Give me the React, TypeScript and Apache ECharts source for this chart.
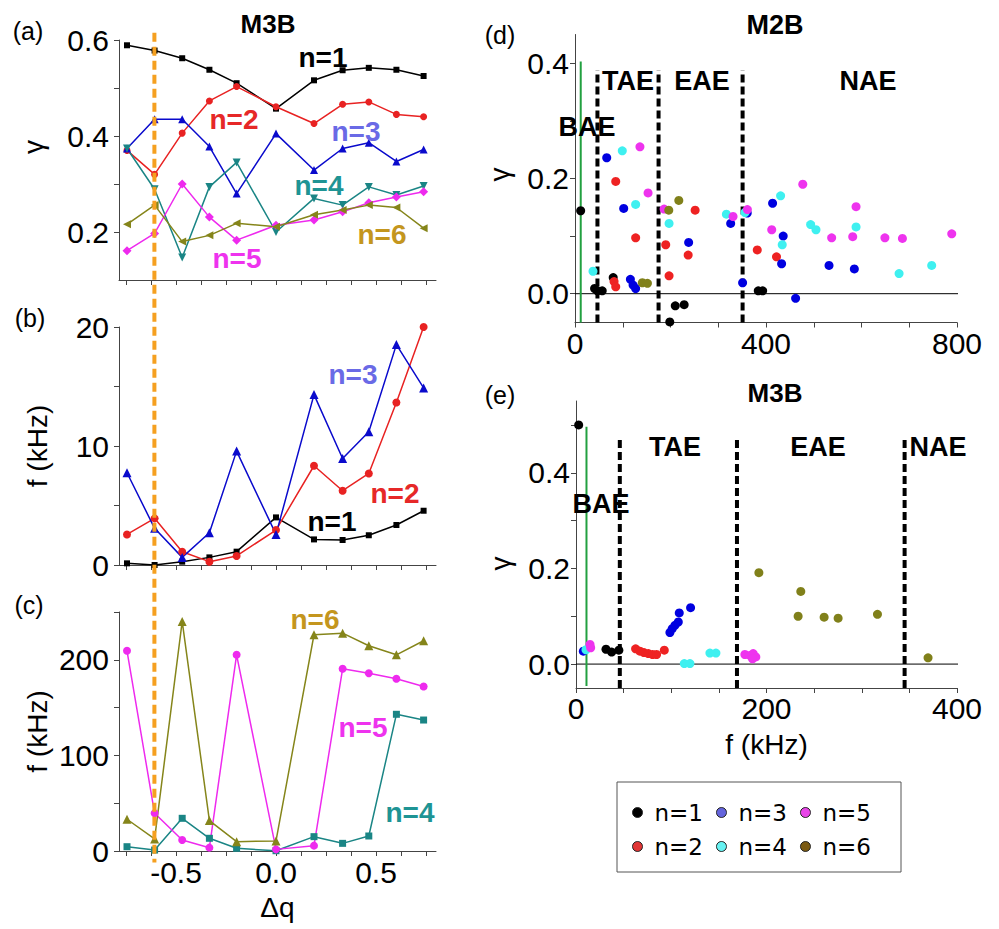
import React, { useEffect, useRef } from "react";
import * as echarts from "echarts";

// ---------- data: panels (a)-(c), scan of Δq ----------
const DQ = [-0.745, -0.607, -0.469, -0.333, -0.197, 0, 0.19, 0.333, 0.464, 0.602, 0.738];
const ORANGE_DQ = -0.608;
const Q_TICKS = [-0.75, -0.625, -0.5, -0.375, -0.25, -0.125, 0, 0.125, 0.25, 0.375, 0.5, 0.625, 0.75];
const Q_LABELS = [-0.5, 0, 0.5];

// (a) growth rate γ
const GA_N1 = [0.589, 0.578, 0.562, 0.538, 0.51, 0.457, 0.516, 0.537, 0.542, 0.538, 0.525];
const GA_N2 = [0.37, 0.32, 0.406, 0.473, 0.503, 0.461, 0.426, 0.466, 0.471, 0.445, 0.44];
const GA_N3 = [0.374, 0.435, 0.435, 0.378, 0.28, 0.405, 0.329, 0.374, 0.386, 0.347, 0.372];
const GA_N4 = [0.374, 0.289, 0.147, 0.294, 0.345, 0.2, 0.27, 0.256, 0.294, 0.277, 0.296];
const GA_N5 = [0.161, 0.197, 0.3, 0.231, 0.183, 0.214, 0.225, 0.242, 0.261, 0.273, 0.284];
const GA_N6 = [0.216, 0.256, 0.18, 0.193, 0.218, 0.211, 0.236, 0.246, 0.256, 0.251, 0.208];

// (b) frequency, kHz
const FB_N1 = [0.14, 0, 0.28, 0.64, 1.12, 4.0, 2.15, 2.1, 2.5, 3.36, 4.56];
const FB_N2 = [2.57, 3.92, 1.12, 0.28, 0.76, 2.94, 8.34, 6.24, 7.69, 13.65, 20.0];
const FB_N3 = [7.75, 3.08, 0.64, 2.71, 9.57, 2.57, 14.32, 8.95, 11.19, 18.52, 14.88];

// (c) frequency, kHz
const FC_N4 = [4.5, 1, 34.2, 13.3, 2.8, 0.3, 15, 8, 15.7, 143, 137];
const FC_N5 = [209.4, 39.4, 11.5, 3.5, 205.2, 1.7, 5.6, 190.6, 186, 180.1, 172];
const FC_N6 = [33.2, 12.6, 240.1, 31.8, 9.8, 10.5, 226.2, 227.9, 214.7, 205.2, 219.9];

// ---------- data: panel (d) M2B, [f (kHz), γ] ----------
const D_N1 = [[11.9, 0.144], [41, 0.009], [47, 0.005], [57, 0.005], [80, 0.028], [198.5, -0.049], [210, -0.021], [228.6, -0.019], [383.8, 0.005], [393, 0.005]];
const D_N2 = [[85.3, 0.195], [81.8, 0.021], [85.3, 0.012], [127, 0.097], [190, 0.085], [197, 0.031], [251.6, 0.145], [237, 0.067], [381.7, 0.076], [422, 0.064]];
const D_N3 = [[66.4, 0.236], [102, 0.148], [116, 0.025], [121.6, 0.015], [127, 0.009], [238, 0.089], [326, 0.122], [351, 0.019], [360.7, 0.14], [413.8, 0.157], [436, 0.1], [432.7, 0.052], [462, -0.008], [532, 0.049], [585, 0.043]];
const D_N4 = [[37.7, 0.039], [99, 0.248], [127, 0.155], [197, 0.122], [317, 0.138], [356, 0.141], [430.6, 0.17], [434, 0.085], [493.5, 0.12], [504.7, 0.111], [588.6, 0.116], [678.7, 0.035], [747, 0.049]];
const D_N5 = [[136, 0.255], [153, 0.175], [186.6, 0.147], [331, 0.134], [361, 0.146], [412, 0.111], [477, 0.19], [537.5, 0.097], [581.6, 0.099], [588.6, 0.151], [649, 0.097], [685.7, 0.096], [789, 0.104]];
const D_N6 = [[217.4, 0.162], [196.4, 0.145], [141, 0.019], [151.7, 0.018]];
const D_BAE = 12;
const D_BOUNDS = [47, 175, 351];

// ---------- data: panel (e) M3B, [f (kHz), γ] ----------
const E_N1 = [[2.8, 0.5], [31.5, 0.031], [37.4, 0.025], [45, 0.029]];
const E_N2 = [[62.6, 0.032], [67.1, 0.027], [71.3, 0.024], [75.9, 0.022], [80.4, 0.02], [84.6, 0.02], [92.7, 0.029]];
const E_N3 = [[7.7, 0.027], [98.6, 0.066], [101, 0.074], [103.9, 0.081], [107.4, 0.088], [108.4, 0.107], [120.3, 0.118]];
const E_N4 = [[10.5, 0.03], [113.7, 0.001], [119.6, 0.001], [140.6, 0.023], [146.9, 0.023]];
const E_N5 = [[14.7, 0.041], [15.4, 0.034], [177.3, 0.02], [182.5, 0.018], [186, 0.022], [188.8, 0.015], [185.3, 0.011]];
const E_N6 = [[192, 0.191], [236, 0.152], [233.2, 0.1], [260.5, 0.098], [275.2, 0.096], [316.5, 0.104], [369.6, 0.013]];
const E_BAE = 11;
const E_BOUNDS = [46, 169, 345];

const FONT = "Liberation Sans";
const LEG_FONT = "DejaVu Sans";
const AX = "#444";

const LINE_COL: Record<string, string> = {
  "n=1": "#000000",
  "n=2": "#e82222",
  "n=3": "#0a0acc",
  "n=4": "#1a8585",
  "n=5": "#ee2aee",
  "n=6": "#85851a",
};
const SCAT_COL: Record<string, string> = {
  "n=1": "#000000",
  "n=2": "#ee2222",
  "n=3": "#0000e0",
  "n=4": "#3ff0f0",
  "n=5": "#ee33ee",
  "n=6": "#80801a",
};
const LEG_COL: Record<string, string> = {
  "n=1": "#000000",
  "n=2": "#e03535",
  "n=3": "#6464dc",
  "n=4": "#66f2f2",
  "n=5": "#e844e8",
  "n=6": "#7a5a12",
};
const LABEL_COL: Record<string, string> = {
  "n=1": "#000000",
  "n=2": "#e62828",
  "n=3": "#6a6ae6",
  "n=4": "#1e9494",
  "n=5": "#ee33ee",
  "n=6": "#c4961e",
};

const zip = (xs: number[], ys: number[]) => xs.map((x, i) => [x, ys[i]]);
const fmt1 = (v: number) => v.toFixed(1);

function qAxis(gridIndex: number, withLabels: boolean) {
  return {
    gridIndex,
    type: "value",
    min: -0.785,
    max: 0.8,
    axisLine: { show: true, onZero: false, lineStyle: { color: AX, width: 1 } },
    axisTick: { show: true, customValues: Q_TICKS, length: 5, lineStyle: { color: AX } },
    axisLabel: {
      show: withLabels,
      customValues: Q_LABELS,
      formatter: fmt1,
      fontSize: 30,
      fontFamily: FONT,
      color: "#000",
      margin: 6,
    },
    splitLine: { show: false },
    name: withLabels ? "Δq" : "",
    nameLocation: "middle",
    nameGap: 42,
    nameTextStyle: { fontSize: 28, fontFamily: FONT, color: "#000" },
  };
}

function valAxis(gridIndex: number, o: any) {
  return {
    gridIndex,
    type: "value",
    min: o.min,
    max: o.max,
    axisLine: { show: true, onZero: false, lineStyle: { color: AX, width: 1 } },
    axisTick: { show: true, customValues: o.ticks, length: 5, lineStyle: { color: AX } },
    axisLabel: {
      show: true,
      customValues: o.labels,
      formatter: o.fmt || ((v: number) => String(v)),
      fontSize: 30,
      fontFamily: FONT,
      color: "#000",
      margin: o.margin ?? 8,
    },
    splitLine: { show: false },
    name: o.name || "",
    nameLocation: "middle",
    nameGap: o.nameGap ?? 50,
    nameTextStyle: { fontSize: 28, fontFamily: FONT, color: "#000", padding: o.namePad || 0 },
  };
}

function lineSeries(name: string, grid: number, ys: number[], symbol: string, size: number, rotate = 0) {
  const c = LINE_COL[name];
  return {
    type: "line",
    name: "(" + "abc"[grid] + ") " + name,
    xAxisIndex: grid,
    yAxisIndex: grid,
    data: zip(DQ, ys),
    symbol,
    symbolSize: size,
    symbolRotate: rotate,
    showSymbol: true,
    lineStyle: { color: c, width: 1.5 },
    itemStyle: { color: c },
    z: 3,
  };
}

function scatterSeries(name: string, grid: number, data: number[][]) {
  return {
    type: "scatter",
    name,
    xAxisIndex: grid,
    yAxisIndex: grid,
    data,
    symbol: "circle",
    symbolSize: 9,
    itemStyle: { color: SCAT_COL[name], opacity: 1 },
    z: 4,
  };
}

function vLine(grid: number, x: number, y0: number, y1: number, color: string, width: number, dash: any) {
  return {
    type: "line",
    xAxisIndex: grid,
    yAxisIndex: grid,
    data: [[x, y0], [x, y1]],
    symbol: "none",
    silent: true,
    lineStyle: { color, width, type: dash },
    z: 2,
  };
}

function zeroLine(grid: number, xEnd: number) {
  return {
    type: "line",
    xAxisIndex: grid,
    yAxisIndex: grid,
    data: [[0, 0], [xEnd, 0]],
    symbol: "none",
    silent: true,
    clip: false,
    lineStyle: { color: "#000", width: 1 },
    z: 1,
  };
}

function txt(x: number, y: number, text: string, color: string, size: number, bold = true) {
  return {
    type: "text",
    x,
    y,
    z: 50,
    style: {
      text,
      fill: color,
      font: (bold ? "bold " : "") + size + "px '" + FONT + "'",
      textAlign: "center",
      textVerticalAlign: "middle",
    },
  };
}

export default function App() {
  const ref = useRef<HTMLDivElement>(null);
  useEffect(() => {
    if (!ref.current) return;
    const chart = echarts.init(ref.current, undefined, { renderer: "svg" });

    const series: any[] = [
      // (a)
      lineSeries("n=1", 0, GA_N1, "rect", 6),
      lineSeries("n=2", 0, GA_N2, "circle", 7),
      lineSeries("n=3", 0, GA_N3, "triangle", 8),
      lineSeries("n=4", 0, GA_N4, "triangle", 8, 180),
      lineSeries("n=5", 0, GA_N5, "diamond", 9),
      lineSeries("n=6", 0, GA_N6, "triangle", 8, 90),
      // (b)
      lineSeries("n=1", 1, FB_N1, "rect", 6),
      lineSeries("n=2", 1, FB_N2, "circle", 8),
      lineSeries("n=3", 1, FB_N3, "triangle", 9),
      // (c)
      lineSeries("n=4", 2, FC_N4, "rect", 7),
      lineSeries("n=5", 2, FC_N5, "circle", 8),
      lineSeries("n=6", 2, FC_N6, "triangle", 9),
      // (d) reference lines
      zeroLine(3, 820),
      vLine(3, D_BAE, -0.05, 0.403, "#22a040", 2, "solid"),
      ...D_BOUNDS.map((b) => vLine(3, b, -0.05, 0.388, "#000", 4, [8, 4])),
      // (e) reference lines
      zeroLine(4, 412),
      vLine(4, E_BAE, -0.046, 0.496, "#22a040", 2, "solid"),
      ...E_BOUNDS.map((b) => vLine(4, b, -0.05, 0.475, "#000", 4, [8, 4])),
      // (d) scatter
      scatterSeries("n=1", 3, D_N1),
      scatterSeries("n=2", 3, D_N2),
      scatterSeries("n=3", 3, D_N3),
      scatterSeries("n=4", 3, D_N4),
      scatterSeries("n=5", 3, D_N5),
      scatterSeries("n=6", 3, D_N6),
      // (e) scatter
      scatterSeries("n=1", 4, E_N1),
      scatterSeries("n=2", 4, E_N2),
      scatterSeries("n=3", 4, E_N3),
      scatterSeries("n=4", 4, E_N4),
      scatterSeries("n=5", 4, E_N5),
      scatterSeries("n=6", 4, E_N6),
    ];

    const legendItem = (n: string) => ({
      name: n,
      icon: "circle",
      itemStyle: { color: LEG_COL[n], borderColor: "#222", borderWidth: 1 },
    });
    const legendBase = {
      orient: "horizontal",
      left: 632,
      padding: 0,
      itemWidth: 24,
      itemHeight: 10,
      itemGap: 13,
      selectedMode: false,
      textStyle: { fontSize: 23, fontFamily: LEG_FONT, color: "#000" },
    };

    const option: any = {
      animation: false,
      backgroundColor: "#fff",
      grid: [
        { left: 119, top: 40, width: 317, height: 240 },
        { left: 119, top: 327, width: 317, height: 238 },
        { left: 119, top: 612, width: 317, height: 239 },
        { left: 575, top: 34.5, width: 382, height: 288 },
        { left: 576, top: 401, width: 381, height: 287 },
      ],
      xAxis: [
        qAxis(0, false),
        qAxis(1, false),
        qAxis(2, true),
        valAxis(3, { min: 0, max: 800, ticks: [0, 100, 200, 300, 400, 500, 600, 700, 800], labels: [0, 400, 800], margin: 6 }),
        valAxis(4, {
          min: 0,
          max: 400,
          ticks: [0, 50, 100, 150, 200, 250, 300, 350, 400],
          labels: [0, 200, 400],
          margin: 5,
          name: "f (kHz)",
          nameGap: 42,
        }),
      ],
      yAxis: [
        valAxis(0, { min: 0.1, max: 0.6, ticks: [0.2, 0.3, 0.4, 0.5, 0.6], labels: [0.2, 0.4, 0.6], fmt: fmt1, margin: 10, name: "γ", nameGap: 72, namePad: [0, 0, 0, 26] }),
        valAxis(1, { min: 0, max: 20, ticks: [0, 5, 10, 15, 20], labels: [0, 10, 20], margin: 10, name: "f (kHz)", nameGap: 68 }),
        valAxis(2, { min: 0, max: 250, ticks: [0, 50, 100, 150, 200, 250], labels: [0, 100, 200], margin: 10, name: "f (kHz)", nameGap: 68 }),
        valAxis(3, { min: -0.05, max: 0.45, ticks: [0, 0.1, 0.2, 0.3, 0.4], labels: [0, 0.2, 0.4], fmt: fmt1, margin: 6, name: "γ", nameGap: 62, namePad: [0, 0, 0, 8] }),
        valAxis(4, { min: -0.05, max: 0.55, ticks: [0, 0.1, 0.2, 0.3, 0.4, 0.5], labels: [0, 0.2, 0.4], fmt: fmt1, margin: 6, name: "γ", nameGap: 62, namePad: [0, 38, 0, 0] }),
      ],
      legend: [
        { ...legendBase, top: 801, data: ["n=1", "n=3", "n=5"].map(legendItem) },
        { ...legendBase, top: 835, data: ["n=2", "n=4", "n=6"].map(legendItem) },
      ],
      series,
    };
    chart.setOption(option);

    const ox = chart.convertToPixel({ xAxisIndex: 0 }, ORANGE_DQ) as number;
    const oTop = chart.convertToPixel({ yAxisIndex: 0 }, 0.615) as number;
    const oBot = chart.convertToPixel({ yAxisIndex: 2 }, -12) as number;

    const graphic: any[] = [
      {
        type: "line",
        z: 40,
        shape: { x1: ox, y1: oTop, x2: ox, y2: oBot },
        style: { stroke: "#f5a020", lineWidth: 4, lineDash: [9, 5] },
      },
      // panel letters
      txt(28, 31, "(a)", "#000", 25, false),
      txt(30, 318, "(b)", "#000", 25, false),
      txt(29, 605, "(c)", "#000", 25, false),
      txt(500, 35, "(d)", "#000", 25, false),
      txt(500, 395, "(e)", "#000", 25, false),
      // titles
      txt(268, 24, "M3B", "#000", 26),
      txt(775, 25, "M2B", "#000", 27),
      txt(775, 393, "M3B", "#000", 26),
      // (a) mode labels
      txt(323, 57, "n=1", LABEL_COL["n=1"], 28),
      txt(234, 119, "n=2", LABEL_COL["n=2"], 28),
      txt(356, 131, "n=3", LABEL_COL["n=3"], 28),
      txt(319, 185, "n=4", LABEL_COL["n=4"], 28),
      txt(237, 258, "n=5", LABEL_COL["n=5"], 28),
      txt(382, 234, "n=6", LABEL_COL["n=6"], 28),
      // (b)
      txt(353, 374, "n=3", LABEL_COL["n=3"], 28),
      txt(395, 493, "n=2", LABEL_COL["n=2"], 28),
      txt(332, 521, "n=1", LABEL_COL["n=1"], 28),
      // (c)
      txt(315, 619, "n=6", LABEL_COL["n=6"], 28),
      txt(363, 727, "n=5", LABEL_COL["n=5"], 28),
      txt(410, 812, "n=4", LABEL_COL["n=4"], 28),
      // (d) regions
      txt(587, 127, "BAE", "#000", 27),
      txt(628, 81, "TAE", "#000", 27),
      txt(702, 81, "EAE", "#000", 27),
      txt(868, 81, "NAE", "#000", 27),
      // (e) regions
      txt(601, 504, "BAE", "#000", 27),
      txt(675, 447, "TAE", "#000", 27),
      txt(818, 447, "EAE", "#000", 27),
      txt(938, 447, "NAE", "#000", 27),
      // legend frame
      {
        type: "rect",
        z: 0,
        shape: { x: 617, y: 782, width: 284, height: 90 },
        style: { fill: "none", stroke: "#555", lineWidth: 1 },
      },
    ];
    chart.setOption({ graphic });

    return () => chart.dispose();
  }, []);

  return (
    <div
      ref={ref}
      style={{ position: "fixed", left: 0, top: 0, width: 999, height: 929, background: "#fff" }}
    />
  );
}
